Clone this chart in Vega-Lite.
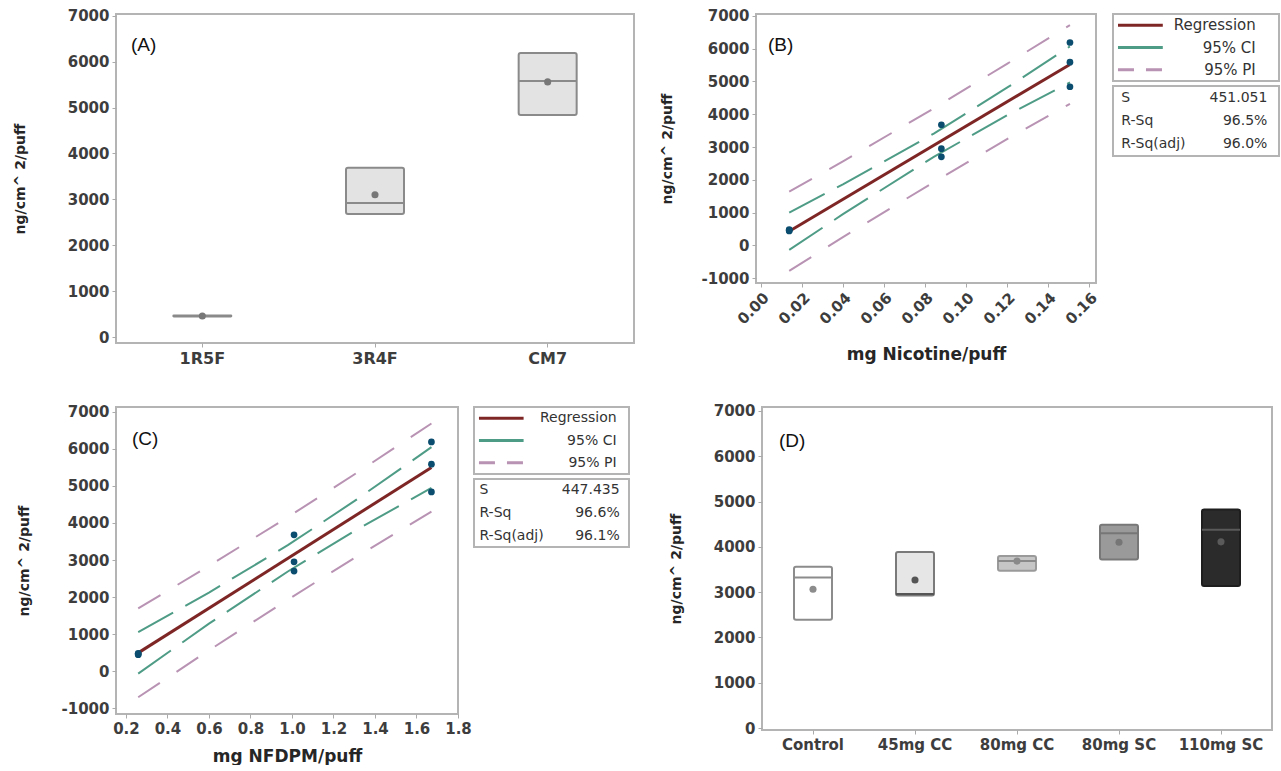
{
  "$schema": "https://vega.github.io/schema/vega-lite/v6.json",
  "padding": {"left": 12, "top": 7, "right": 0, "bottom": 0},
  "background": "white",
  "config": {
    "view": {"stroke": "#b4b4b4", "strokeWidth": 2},
    "axis": {"domain": false, "grid": false, "ticks": true, "tickColor": "#aaaaaa", "tickSize": 4, "labelFlush": false, "labelFont": "DejaVu Sans", "labelFontWeight": "bold", "labelFontSize": 15, "labelColor": "#3d3d3d", "labelPadding": 3, "titleFont": "DejaVu Sans", "titleFontWeight": "bold", "titleFontSize": 14, "titleColor": "#262626"},
    "title": {"font": "Liberation Sans", "fontSize": 19, "fontWeight": "normal", "color": "#111111", "anchor": "start", "frame": "group", "baseline": "top"}
  },
  "datasets": {
    "boxA": [
      {"cat": "1R5F", "lo": 450, "hi": 470, "med": 460, "mean": 460},
      {"cat": "3R4F", "lo": 2680, "hi": 3690, "med": 2920, "mean": 3100},
      {"cat": "CM7", "lo": 4840, "hi": 6190, "med": 5580, "mean": 5560}
    ],
    "boxD": [
      {"cat": "Control", "lo": 2390, "hi": 3560, "med": 3325, "mean": 3065},
      {"cat": "45mg CC", "lo": 2925, "hi": 3885, "med": 2960, "mean": 3267},
      {"cat": "80mg CC", "lo": 3475, "hi": 3800, "med": 3690, "mean": 3685},
      {"cat": "80mg SC", "lo": 3720, "hi": 4490, "med": 4300, "mean": 4100},
      {"cat": "110mg SC", "lo": 3135, "hi": 4825, "med": 4380, "mean": 4110}
    ],
    "ptsB": [
      {"x": 0.0138, "y": 440}, {"x": 0.0138, "y": 460}, {"x": 0.0138, "y": 480},
      {"x": 0.088, "y": 2700}, {"x": 0.088, "y": 2950}, {"x": 0.088, "y": 3680},
      {"x": 0.1507, "y": 4840}, {"x": 0.1507, "y": 5590}, {"x": 0.1507, "y": 6190}
    ],
    "fitB": [
      {"x": 0.0138, "y": 430, "series": "Regression", "curve": "reg"},
      {"x": 0.1507, "y": 5520, "series": "Regression", "curve": "reg"},
      {"x": 0.0138, "y": 1000, "series": "95% CI", "curve": "ciu"},
      {"x": 0.04, "y": 1860, "series": "95% CI", "curve": "ciu"},
      {"x": 0.0843, "y": 3410, "series": "95% CI", "curve": "ciu"},
      {"x": 0.12, "y": 4810, "series": "95% CI", "curve": "ciu"},
      {"x": 0.1507, "y": 6070, "series": "95% CI", "curve": "ciu"},
      {"x": 0.0138, "y": -140, "series": "95% CI", "curve": "cil"},
      {"x": 0.04, "y": 950, "series": "95% CI", "curve": "cil"},
      {"x": 0.0843, "y": 2700, "series": "95% CI", "curve": "cil"},
      {"x": 0.12, "y": 3970, "series": "95% CI", "curve": "cil"},
      {"x": 0.1507, "y": 4970, "series": "95% CI", "curve": "cil"},
      {"x": 0.0138, "y": 1640, "series": "95% PI", "curve": "piu"},
      {"x": 0.04, "y": 2560, "series": "95% PI", "curve": "piu"},
      {"x": 0.0843, "y": 4180, "series": "95% PI", "curve": "piu"},
      {"x": 0.12, "y": 5540, "series": "95% PI", "curve": "piu"},
      {"x": 0.1507, "y": 6720, "series": "95% PI", "curve": "piu"},
      {"x": 0.0138, "y": -780, "series": "95% PI", "curve": "pil"},
      {"x": 0.04, "y": 250, "series": "95% PI", "curve": "pil"},
      {"x": 0.0843, "y": 1930, "series": "95% PI", "curve": "pil"},
      {"x": 0.12, "y": 3240, "series": "95% PI", "curve": "pil"},
      {"x": 0.1507, "y": 4320, "series": "95% PI", "curve": "pil"}
    ],
    "ptsC": [
      {"x": 0.259, "y": 440}, {"x": 0.259, "y": 460}, {"x": 0.259, "y": 480},
      {"x": 1.01, "y": 2700}, {"x": 1.01, "y": 2950}, {"x": 1.01, "y": 3680},
      {"x": 1.672, "y": 4840}, {"x": 1.672, "y": 5590}, {"x": 1.672, "y": 6190}
    ],
    "fitC": [
      {"x": 0.259, "y": 490, "series": "Regression", "curve": "reg"},
      {"x": 1.672, "y": 5500, "series": "Regression", "curve": "reg"},
      {"x": 0.259, "y": 1050, "series": "95% CI", "curve": "ciu"},
      {"x": 0.6, "y": 2120, "series": "95% CI", "curve": "ciu"},
      {"x": 0.98, "y": 3400, "series": "95% CI", "curve": "ciu"},
      {"x": 1.3, "y": 4590, "series": "95% CI", "curve": "ciu"},
      {"x": 1.672, "y": 6050, "series": "95% CI", "curve": "ciu"},
      {"x": 0.259, "y": -70, "series": "95% CI", "curve": "cil"},
      {"x": 0.6, "y": 1280, "series": "95% CI", "curve": "cil"},
      {"x": 0.98, "y": 2690, "series": "95% CI", "curve": "cil"},
      {"x": 1.3, "y": 3780, "series": "95% CI", "curve": "cil"},
      {"x": 1.672, "y": 4950, "series": "95% CI", "curve": "cil"},
      {"x": 0.259, "y": 1690, "series": "95% PI", "curve": "piu"},
      {"x": 0.6, "y": 2840, "series": "95% PI", "curve": "piu"},
      {"x": 0.98, "y": 4160, "series": "95% PI", "curve": "piu"},
      {"x": 1.3, "y": 5310, "series": "95% PI", "curve": "piu"},
      {"x": 1.672, "y": 6690, "series": "95% PI", "curve": "piu"},
      {"x": 0.259, "y": -710, "series": "95% PI", "curve": "pil"},
      {"x": 0.6, "y": 560, "series": "95% PI", "curve": "pil"},
      {"x": 0.98, "y": 1930, "series": "95% PI", "curve": "pil"},
      {"x": 1.3, "y": 3050, "series": "95% PI", "curve": "pil"},
      {"x": 1.672, "y": 4310, "series": "95% PI", "curve": "pil"}
    ],
    "legendRows": [
      {"series": "Regression"}, {"series": "95% CI"}, {"series": "95% PI"}
    ],
    "statsB": [
      {"stat": "S", "value": "451.051"}, {"stat": "R-Sq", "value": "96.5%"}, {"stat": "R-Sq(adj)", "value": "96.0%"}
    ],
    "statsC": [
      {"stat": "S", "value": "447.435"}, {"stat": "R-Sq", "value": "96.6%"}, {"stat": "R-Sq(adj)", "value": "96.1%"}
    ]
  },
  "resolve": {"scale": {"color": "independent", "strokeDash": "independent", "fill": "independent", "stroke": "independent"}},
  "spacing": 35,
  "vconcat": [
    {
      "spacing": 24,
      "resolve": {"scale": {"color": "independent", "strokeDash": "independent", "fill": "independent", "stroke": "independent"}},
      "hconcat": [
        {
          "width": 518, "height": 329,
          "title": {"text": "(A)", "offset": -46, "dx": 15},
          "data": {"name": "boxA"},
          "encoding": {
            "x": {"field": "cat", "type": "nominal", "sort": null, "title": null, "scale": {"paddingInner": 0, "paddingOuter": 0}, "axis": {"labelAngle": 0, "labelFontSize": 16}},
            "y": {"type": "quantitative", "title": "ng/cm^ 2/puff", "scale": {"domain": [-130, 7040], "nice": false, "zero": false}, "axis": {"values": [0, 1000, 2000, 3000, 4000, 5000, 6000, 7000], "format": "d", "titlePadding": 40}}
          },
          "layer": [
            {"mark": {"type": "bar", "size": 58, "fill": "#e3e3e3", "stroke": "#8a8a8a", "strokeWidth": 2, "cornerRadius": 2}, "encoding": {"y": {"field": "lo", "type": "quantitative", "title": "ng/cm^ 2/puff"}, "y2": {"field": "hi"}}},
            {"mark": {"type": "tick", "size": 58, "thickness": 2, "color": "#8a8a8a", "opacity": 1}, "encoding": {"y": {"field": "med", "type": "quantitative", "title": "ng/cm^ 2/puff"}}},
            {"mark": {"type": "circle", "size": 50, "color": "#777777", "opacity": 1}, "encoding": {"y": {"field": "mean", "type": "quantitative", "title": "ng/cm^ 2/puff"}}}
          ]
        },
        {
          "spacing": 11,
          "resolve": {"scale": {"color": "independent", "strokeDash": "independent", "fill": "independent", "stroke": "independent"}},
          "hconcat": [
            {
              "width": 340, "height": 269,
              "title": {"text": "(B)", "offset": -46, "dx": 12},
              "encoding": {
                "x": {"field": "x", "type": "quantitative", "title": "mg Nicotine/puff", "scale": {"domain": [-0.0024, 0.1634], "nice": false, "zero": false}, "axis": {"values": [0, 0.02, 0.04, 0.06, 0.08, 0.1, 0.12, 0.14, 0.16], "format": ".2f", "labelAngle": -45, "titleFontSize": 17, "titlePadding": 20}},
                "y": {"field": "y", "type": "quantitative", "title": "ng/cm^ 2/puff", "scale": {"domain": [-1150, 7060], "nice": false, "zero": false}, "axis": {"values": [-1000, 0, 1000, 2000, 3000, 4000, 5000, 6000, 7000], "labelExpr": "datum.value < 0 ? '-' + format(-datum.value, 'd') : format(datum.value, 'd')", "titlePadding": 27}}
              },
              "layer": [
                {
                  "data": {"name": "fitB"},
                  "transform": [{"filter": "datum.series !== 'Regression'"}],
                  "mark": {"type": "line", "strokeWidth": 2},
                  "encoding": {
                    "color": {"field": "series", "type": "nominal", "scale": {"domain": ["95% CI", "95% PI"], "range": ["#4f9c86", "#b993b3"]}, "legend": null},
                    "strokeDash": {"field": "series", "type": "nominal", "scale": {"domain": ["95% CI", "95% PI"], "range": [[40, 14], [26, 20]]}, "legend": null},
                    "detail": {"field": "curve", "type": "nominal"}
                  }
                },
                {
                  "data": {"name": "fitB"},
                  "transform": [{"filter": "datum.series === 'Regression'"}],
                  "mark": {"type": "line", "strokeWidth": 3, "color": "#7e2626"},
                  "encoding": {}
                },
                {
                  "data": {"name": "ptsB"},
                  "mark": {"type": "circle", "size": 45, "color": "#0b4d6e", "opacity": 1},
                  "encoding": {}
                }
              ]
            },
            {
              "spacing": 3,
              "resolve": {"scale": {"color": "independent", "strokeDash": "independent"}},
              "vconcat": [
                {
                  "width": 166, "height": 67,
                  "data": {"name": "legendRows"},
                  "encoding": {"y": {"field": "series", "type": "nominal", "sort": null, "axis": null}},
                  "layer": [
                    {"mark": {"type": "rule", "strokeWidth": 3}, "encoding": {
                      "x": {"datum": 0.03, "type": "quantitative", "scale": {"domain": [0, 1], "nice": false}, "axis": null},
                      "x2": {"datum": 0.3},
                      "color": {"field": "series", "type": "nominal", "scale": {"domain": ["Regression", "95% CI", "95% PI"], "range": ["#7e2626", "#4f9c86", "#b993b3"]}, "legend": null},
                      "strokeDash": {"field": "series", "type": "nominal", "scale": {"domain": ["Regression", "95% CI", "95% PI"], "range": [[1, 0], [60, 0], [16, 12]]}, "legend": null}
                    }},
                    {"mark": {"type": "text", "align": "right", "font": "DejaVu Sans", "fontSize": 15, "color": "#333333"}, "encoding": {
                      "x": {"datum": 0.86, "type": "quantitative"},
                      "text": {"field": "series"}
                    }}
                  ]
                },
                {
                  "width": 166, "height": 70,
                  "data": {"name": "statsB"},
                  "encoding": {"y": {"field": "stat", "type": "nominal", "sort": null, "axis": null}},
                  "layer": [
                    {"mark": {"type": "text", "align": "left", "font": "DejaVu Sans", "fontSize": 14, "color": "#333333"}, "encoding": {
                      "x": {"datum": 0.05, "type": "quantitative", "scale": {"domain": [0, 1], "nice": false}, "axis": null},
                      "text": {"field": "stat"}
                    }},
                    {"mark": {"type": "text", "align": "right", "font": "DejaVu Sans", "fontSize": 14, "color": "#333333"}, "encoding": {
                      "x": {"datum": 0.93, "type": "quantitative"},
                      "text": {"field": "value"}
                    }}
                  ]
                }
              ]
            }
          ]
        }
      ]
    },
    {
      "spacing": 38,
      "resolve": {"scale": {"color": "independent", "strokeDash": "independent", "fill": "independent", "stroke": "independent"}},
      "hconcat": [
        {
          "spacing": 0,
          "resolve": {"scale": {"color": "independent", "strokeDash": "independent"}},
          "hconcat": [
            {
              "width": 342, "height": 307,
              "title": {"text": "(C)", "offset": -44, "dx": 16},
              "encoding": {
                "x": {"field": "x", "type": "quantitative", "title": "mg NFDPM/puff", "scale": {"domain": [0.152, 1.8], "nice": false, "zero": false}, "axis": {"values": [0.2, 0.4, 0.6, 0.8, 1.0, 1.2, 1.4, 1.6, 1.8], "format": ".1f", "labelAngle": 0, "titleFontSize": 17, "titlePadding": 12}},
                "y": {"field": "y", "type": "quantitative", "title": "ng/cm^ 2/puff", "scale": {"domain": [-1162, 7135], "nice": false, "zero": false}, "axis": {"values": [-1000, 0, 1000, 2000, 3000, 4000, 5000, 6000, 7000], "labelExpr": "datum.value < 0 ? '-' + format(-datum.value, 'd') : format(datum.value, 'd')", "titlePadding": 30}}
              },
              "layer": [
                {
                  "data": {"name": "fitC"},
                  "transform": [{"filter": "datum.series !== 'Regression'"}],
                  "mark": {"type": "line", "strokeWidth": 2},
                  "encoding": {
                    "color": {"field": "series", "type": "nominal", "scale": {"domain": ["95% CI", "95% PI"], "range": ["#4f9c86", "#b993b3"]}, "legend": null},
                    "strokeDash": {"field": "series", "type": "nominal", "scale": {"domain": ["95% CI", "95% PI"], "range": [[40, 14], [26, 20]]}, "legend": null},
                    "detail": {"field": "curve", "type": "nominal"}
                  }
                },
                {
                  "data": {"name": "fitC"},
                  "transform": [{"filter": "datum.series === 'Regression'"}],
                  "mark": {"type": "line", "strokeWidth": 3, "color": "#7e2626"},
                  "encoding": {}
                },
                {
                  "data": {"name": "ptsC"},
                  "mark": {"type": "circle", "size": 45, "color": "#0b4d6e", "opacity": 1},
                  "encoding": {}
                }
              ]
            },
            {
              "spacing": 3,
              "resolve": {"scale": {"color": "independent", "strokeDash": "independent"}},
              "vconcat": [
                {
                  "width": 155, "height": 67,
                  "data": {"name": "legendRows"},
                  "encoding": {"y": {"field": "series", "type": "nominal", "sort": null, "axis": null}},
                  "layer": [
                    {"mark": {"type": "rule", "strokeWidth": 3}, "encoding": {
                      "x": {"datum": 0.032, "type": "quantitative", "scale": {"domain": [0, 1], "nice": false}, "axis": null},
                      "x2": {"datum": 0.32},
                      "color": {"field": "series", "type": "nominal", "scale": {"domain": ["Regression", "95% CI", "95% PI"], "range": ["#7e2626", "#4f9c86", "#b993b3"]}, "legend": null},
                      "strokeDash": {"field": "series", "type": "nominal", "scale": {"domain": ["Regression", "95% CI", "95% PI"], "range": [[1, 0], [60, 0], [16, 12]]}, "legend": null}
                    }},
                    {"mark": {"type": "text", "align": "right", "font": "DejaVu Sans", "fontSize": 14, "color": "#333333"}, "encoding": {
                      "x": {"datum": 0.92, "type": "quantitative"},
                      "text": {"field": "series"}
                    }}
                  ]
                },
                {
                  "width": 155, "height": 68,
                  "data": {"name": "statsC"},
                  "encoding": {"y": {"field": "stat", "type": "nominal", "sort": null, "axis": null}},
                  "layer": [
                    {"mark": {"type": "text", "align": "left", "font": "DejaVu Sans", "fontSize": 14, "color": "#333333"}, "encoding": {
                      "x": {"datum": 0.035, "type": "quantitative", "scale": {"domain": [0, 1], "nice": false}, "axis": null},
                      "text": {"field": "stat"}
                    }},
                    {"mark": {"type": "text", "align": "right", "font": "DejaVu Sans", "fontSize": 14, "color": "#333333"}, "encoding": {
                      "x": {"datum": 0.94, "type": "quantitative"},
                      "text": {"field": "value"}
                    }}
                  ]
                }
              ]
            }
          ]
        },
        {
          "width": 510, "height": 323,
          "title": {"text": "(D)", "offset": -47, "dx": 17},
          "data": {"name": "boxD"},
          "encoding": {
            "x": {"field": "cat", "type": "nominal", "sort": null, "title": null, "scale": {"paddingInner": 0, "paddingOuter": 0}, "axis": {"labelAngle": 0}},
            "y": {"type": "quantitative", "title": "ng/cm^ 2/puff", "scale": {"domain": [-44, 7088], "nice": false, "zero": false}, "axis": {"values": [0, 1000, 2000, 3000, 4000, 5000, 6000, 7000], "format": "d", "titlePadding": 30}}
          },
          "layer": [
            {"mark": {"type": "bar", "size": 38, "strokeWidth": 2, "cornerRadius": 2}, "encoding": {
              "y": {"field": "lo", "type": "quantitative", "title": "ng/cm^ 2/puff"}, "y2": {"field": "hi"},
              "fill": {"field": "cat", "type": "nominal", "scale": {"domain": ["Control", "45mg CC", "80mg CC", "80mg SC", "110mg SC"], "range": ["#ffffff", "#e6e6e6", "#c6c6c6", "#9a9a9a", "#2b2b2b"]}, "legend": null},
              "stroke": {"field": "cat", "type": "nominal", "scale": {"domain": ["Control", "45mg CC", "80mg CC", "80mg SC", "110mg SC"], "range": ["#8c8c8c", "#7a7a7a", "#9a9a9a", "#787878", "#1e1e1e"]}, "legend": null}
            }},
            {"mark": {"type": "tick", "size": 38, "thickness": 2, "opacity": 1}, "encoding": {
              "y": {"field": "med", "type": "quantitative", "title": "ng/cm^ 2/puff"},
              "color": {"field": "cat", "type": "nominal", "scale": {"domain": ["Control", "45mg CC", "80mg CC", "80mg SC", "110mg SC"], "range": ["#8c8c8c", "#555555", "#8a8a8a", "#767676", "#5a5a5a"]}, "legend": null}
            }},
            {"mark": {"type": "circle", "size": 50, "opacity": 1}, "encoding": {
              "y": {"field": "mean", "type": "quantitative", "title": "ng/cm^ 2/puff"},
              "color": {"field": "cat", "type": "nominal", "legend": null}
            }}
          ]
        }
      ]
    }
  ]
}
